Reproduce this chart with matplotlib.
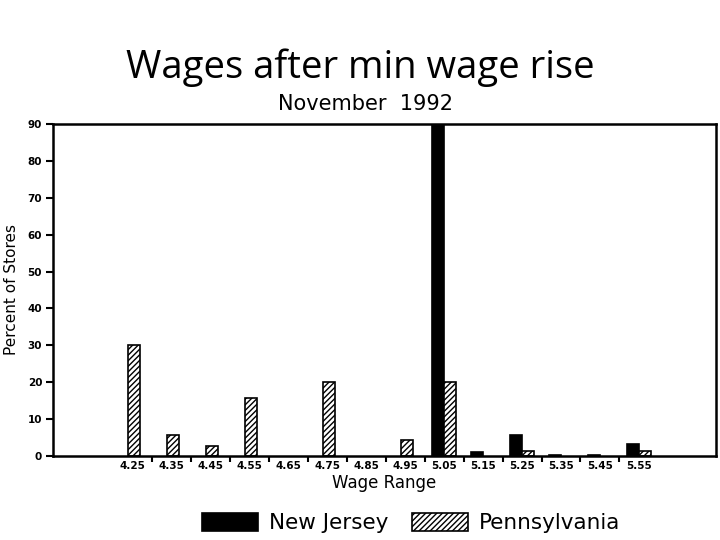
import matplotlib
matplotlib.use("Agg")
import matplotlib.pyplot as plt
import numpy as np

# Wage bins and percent of stores, November 1992
wages = ["4.25", "4.35", "4.45", "4.55", "4.65", "4.75", "4.85",
         "4.95", "5.05", "5.15", "5.25", "5.35", "5.45", "5.55"]
new_jersey = [0, 0, 0, 0, 0, 0, 0, 0, 91, 1.0, 5.5, 0.3, 0.3, 3.3]
pennsylvania = [30, 5.7, 2.7, 15.7, 0, 20, 0, 4.3, 20, 0, 1.4, 0, 0, 1.4]

plt.rcParams['hatch.linewidth'] = 1.0

fig = plt.figure(figsize=(7.2, 5.4), dpi=100)
ax = fig.add_axes([0.074, 0.156, 0.92, 0.614])

x = np.arange(len(wages))
w = 0.31
nj_x = [xi - w / 2 for xi, v in zip(x, new_jersey) if v > 0]
nj_v = [v for v in new_jersey if v > 0]
# lone Pennsylvania bars sit a little left of the paired position
pa_x = [xi + (w / 2 if nj > 0 else w / 8)
        for xi, v, nj in zip(x, pennsylvania, new_jersey) if v > 0]
pa_v = [v for v in pennsylvania if v > 0]

ax.bar(nj_x, nj_v, width=w, color='black', edgecolor='black', linewidth=1.2,
       label='New Jersey')
ax.bar(pa_x, pa_v, width=w, color='white', edgecolor='black', linewidth=1.2,
       hatch='//////', label='Pennsylvania')

ax.set_xlim(-2.03, 14.97)
ax.set_ylim(0, 90)
ax.set_yticks(range(0, 91, 10))
ax.set_xticks(x)
ax.set_xticklabels(wages)
ax.set_xticks(x[:-1] + 0.5, minor=True)
ax.tick_params(axis='x', which='major', length=0, pad=4)
ax.tick_params(axis='x', which='minor', length=4, width=1.5, direction='out')
ax.tick_params(axis='y', length=5, width=1.5, direction='out', pad=3)
for lab in ax.get_xticklabels() + ax.get_yticklabels():
    lab.set_fontsize(7.5)
    lab.set_fontweight('bold')
for sp in ax.spines.values():
    sp.set_linewidth(1.8)

ax.set_ylabel('Percent of Stores', fontsize=11, labelpad=6)
ax.set_xlabel('Wage Range', fontsize=12, labelpad=2)

fig.text(0.5, 0.875, 'Wages after min wage rise', ha='center', va='center',
         fontsize=27.5, family='Open Sans')
fig.text(0.508, 0.807, 'November  1992', ha='center', va='center',
         fontsize=15)

fig.legend(loc='center', bbox_to_anchor=(0.571, 0.031), ncol=2, frameon=False,
           fontsize=15.5, handlelength=2.6, handleheight=0.9, columnspacing=1.1,
           handletextpad=0.5)

fig.savefig('out.png', dpi=100)
